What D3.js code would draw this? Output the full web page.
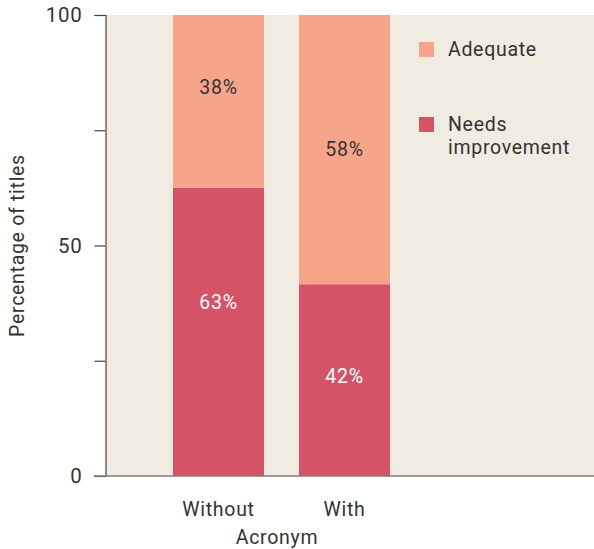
<!DOCTYPE html>
<html>
<head>
<meta charset="utf-8">
<script src="https://cdn.jsdelivr.net/npm/d3@7"></script>
<style>
  html, body { margin: 0; padding: 0; background: #ffffff; }
  svg { display: block; }
  text { font-family: Roboto, "Noto Sans", sans-serif; fill: #333333; font-weight: 400; letter-spacing: 0.7px; }
</style>
</head>
<body>
<svg id="chart" width="594" height="549"></svg>
<script>
// Share of titles by acronym use
const categories = ["Without", "With"];
const seriesNames = ["Needs improvement", "Adequate"];
const needsImprovement = [62.5, 41.6];
const adequate = [37.5, 58.4];
// Where each value label sits, in percentage units
const needsLabelAt = [37.8, 21.6];
const adequateLabelAt = [84.3, 70.9];
const yTicks = [0, 25, 50, 75, 100];
const yTickLabels = ["0", "", "50", "", "100"];

const colors = { "Needs improvement": "#d55366", "Adequate": "#f6a58a" };
const labelColors = { "Needs improvement": "#ffffff", "Adequate": "#333333" };

const FONT = "Roboto, 'Noto Sans', sans-serif";
const svg = d3.select("#chart");
const panel = { left: 106, top: 15, right: 594, bottom: 476 };

const y = d3.scaleLinear().domain([0, 100]).range([panel.bottom, panel.top]);
const x = d3.scaleBand()
  .domain(categories)
  .range([155.5, 407.5])
  .paddingInner(0.2778)
  .paddingOuter(0.1389);

// Panel background
svg.append("rect")
  .attr("x", panel.left).attr("y", panel.top)
  .attr("width", panel.right - panel.left)
  .attr("height", panel.bottom - panel.top)
  .attr("fill", "#f0ece1");

// Stacked bars
const rows = categories.map((c, i) => ({
  category: c,
  "Needs improvement": needsImprovement[i],
  "Adequate": adequate[i]
}));
const stack = d3.stack().keys(seriesNames)(rows);
const labelAt = { "Needs improvement": needsLabelAt, "Adequate": adequateLabelAt };

const layers = svg.append("g").selectAll("g")
  .data(stack)
  .join("g")
  .attr("fill", d => colors[d.key]);

layers.selectAll("rect")
  .data(d => d)
  .join("rect")
  .attr("x", d => x(d.data.category))
  .attr("width", x.bandwidth())
  .attr("y", d => y(d[1]))
  .attr("height", d => y(d[0]) - y(d[1]));

// Value labels
stack.forEach(layer => {
  svg.append("g").selectAll("text")
    .data(layer)
    .join("text")
    .attr("x", d => x(d.data.category) + x.bandwidth() / 2)
    .attr("y", (d, i) => y(labelAt[layer.key][i]))
    .attr("dy", "0.35em")
    .attr("text-anchor", "middle")
    .style("font-size", "19.5px")
    .style("fill", labelColors[layer.key])
    .text(d => Math.round(d[1] - d[0]) + "%");
});

// Y axis
const yAxis = d3.axisLeft(y)
  .tickValues(yTicks)
  .tickFormat((d, i) => yTickLabels[i])
  .tickSize(11)
  .tickPadding(12);
const gy = svg.append("g")
  .attr("transform", `translate(${panel.left - 0.5},0)`)
  .call(yAxis);
gy.select(".domain").attr("stroke", "#444444").attr("stroke-width", 1.2);
gy.selectAll(".tick line").attr("stroke", "#444444").attr("stroke-width", 1.2);
gy.selectAll(".tick text")
  .style("font-family", FONT)
  .style("font-size", "20.5px")
  .style("fill", "#333333");

// X axis baseline and category labels
const xAxis = d3.axisBottom(x).tickSize(0).tickPadding(26);
const gx = svg.append("g")
  .attr("transform", `translate(0,${panel.bottom})`)
  .call(xAxis);
gx.select(".domain")
  .attr("d", `M${panel.left - 12},0H${panel.right}`)
  .attr("stroke", "#807c74").attr("stroke-width", 1.5);
gx.selectAll(".tick text")
  .style("font-family", FONT)
  .style("font-size", "19.5px")
  .style("fill", "#333333");

// Axis titles
svg.append("text")
  .attr("x", 277).attr("y", 544)
  .attr("text-anchor", "middle")
  .style("font-size", "19.5px")
  .text("Acronym");

svg.append("text")
  .attr("transform", `translate(24,${(panel.top + panel.bottom) / 2}) rotate(-90)`)
  .attr("text-anchor", "middle")
  .style("font-size", "19.5px")
  .text("Percentage of titles");

// Legend
const legendItems = [
  { key: "Adequate", lines: ["Adequate"], y: 42 },
  { key: "Needs improvement", lines: ["Needs", "improvement"], y: 117 }
];
const legend = svg.append("g");
legendItems.forEach(item => {
  legend.append("rect")
    .attr("x", 419).attr("y", item.y)
    .attr("width", 15).attr("height", 15)
    .attr("fill", colors[item.key]);
  const t = legend.append("text")
    .attr("x", 448).attr("y", item.y + 14)
    .style("font-size", "19.5px");
  item.lines.forEach((line, i) => {
    t.append("tspan")
      .attr("x", 448)
      .attr("dy", i === 0 ? 0 : 23)
      .text(line);
  });
});
</script>
</body>
</html>
